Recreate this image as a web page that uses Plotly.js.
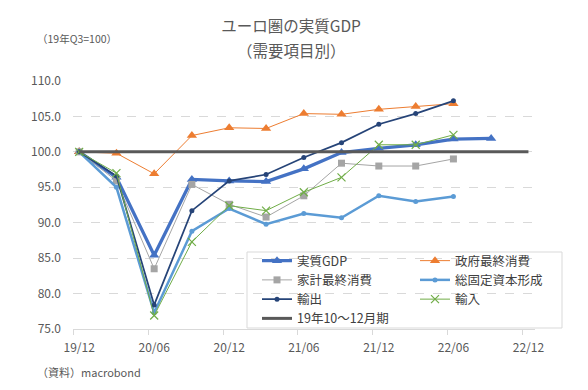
<!DOCTYPE html>
<html>
<head>
<meta charset="utf-8">
<script src="https://cdn.plot.ly/plotly-3.0.1.min.js"></script>
<style>html,body{margin:0;padding:0;background:#fff;}#chart{width:588px;height:390px;}</style>
</head>
<body>
<div id="chart"></div>
<script>
// Quarter-end months (plotted mid-month, like Excel date axis)
const dates = ["2019-12-16","2020-03-16","2020-06-16","2020-09-16","2020-12-16","2021-03-16","2021-06-16","2021-09-16","2021-12-16","2022-03-16","2022-06-16","2022-09-16"];
const refDates = ["2019-12-16","2022-12-16"];
const gdp        = [100.0, 96.4, 85.4, 96.1, 95.9, 95.8, 97.6, 99.9, 100.5, 101.0, 101.8, 101.9];
const government = [100.0, 99.8, 96.9, 102.3, 103.4, 103.3, 105.4, 105.3, 106.0, 106.4, 106.8];
const household  = [100.0, 95.9, 83.5, 95.4, 92.6, 90.8, 93.8, 98.4, 98.0, 98.0, 99.0];
const gfcf       = [100.0, 95.0, 77.3, 88.8, 92.0, 89.8, 91.3, 90.7, 93.8, 93.0, 93.7];
const exportsV   = [100.0, 96.6, 78.4, 91.7, 95.9, 96.8, 99.2, 101.3, 103.9, 105.4, 107.2];
const importsV   = [100.0, 97.0, 76.9, 87.3, 92.4, 91.7, 94.3, 96.4, 101.0, 101.0, 102.4];
const refLine    = [100, 100];
const names = ["実質GDP","政府最終消費","家計最終消費","総固定資本形成","輸出","輸入","19年10～12月期"];
const titleMain = "ユーロ圏の実質GDP";
const titleSub = "（需要項目別）";

const font = "Meiryo, 'Noto Sans CJK JP', 'Noto Sans', sans-serif";

const traces = [
  {x: dates.slice(0, gdp.length), y: gdp, name: names[0], mode: "lines+markers", legend: "legend",
   line: {color: "#4472C4", width: 3.25}, marker: {symbol: "triangle-up", size: 9, color: "#4472C4"}},
  {x: dates.slice(0, government.length), y: government, name: names[1], mode: "lines+markers", legend: "legend2",
   line: {color: "#ED7D31", width: 1}, marker: {symbol: "triangle-up", size: 9, color: "#ED7D31"}},
  {x: dates.slice(0, household.length), y: household, name: names[2], mode: "lines+markers", legend: "legend",
   line: {color: "#A5A5A5", width: 1}, marker: {symbol: "square", size: 7, color: "#A5A5A5"}},
  {x: dates.slice(0, gfcf.length), y: gfcf, name: names[3], mode: "lines+markers", legend: "legend2",
   line: {color: "#5B9BD5", width: 2.5}, marker: {symbol: "circle", size: 5, color: "#5B9BD5"}},
  {x: dates.slice(0, exportsV.length), y: exportsV, name: names[4], mode: "lines+markers", legend: "legend",
   line: {color: "#264478", width: 1.75}, marker: {symbol: "circle", size: 5, color: "#264478"}},
  {x: dates.slice(0, importsV.length), y: importsV, name: names[5], mode: "lines+markers", legend: "legend2",
   line: {color: "#70AD47", width: 1}, marker: {symbol: "x-thin", size: 8, color: "#70AD47", line: {color: "#70AD47", width: 1.2}}},
  {x: refDates, y: refLine, name: names[6], mode: "lines", legend: "legend",
   line: {color: "#595959", width: 3}}
];

const legendBase = {orientation: "v", xanchor: "left", yanchor: "top", y: (329 - 246) / 248,
  bgcolor: "rgba(0,0,0,0)", borderwidth: 0, tracegroupgap: 0, traceorder: "normal",
  font: {family: font, size: 12.5, color: "#404040"}};

const layout = {
  width: 588, height: 390,
  margin: {l: 73, r: 53, t: 81, b: 61},
  paper_bgcolor: "#fff", plot_bgcolor: "#fff",
  font: {family: font, color: "#595959", size: 12},
  title: {text: titleMain, x: 0.495, xanchor: "center", y: 1 - 27 / 390, yanchor: "middle",
          font: {family: font, size: 15.5, color: "#595959"}},
  showlegend: true,
  legend: Object.assign({}, legendBase, {x: (257 - 73) / 462}),
  legend2: Object.assign({}, legendBase, {x: (415 - 73) / 462}),
  shapes: [
    {type: "rect", xref: "paper", yref: "paper", layer: "below",
     x0: (247 - 73) / 462, x1: (562 - 73) / 462, y0: (329 - 328) / 248, y1: (329 - 252) / 248,
     line: {color: "#d9d9d9", width: 1}, fillcolor: "#fff"}
  ],
  xaxis: {type: "date", range: ["2019-12-01", "2023-01-01"],
          tick0: "2019-12-16", dtick: "M6", tickformat: "%y/%m", ticks: "",
          showgrid: false, showline: true, linecolor: "#d9d9d9", linewidth: 1,
          tickfont: {size: 12, color: "#595959"}, ticklabelstandoff: 8,
          minor: {tick0: "2019-12-01", dtick: "M6", ticks: "outside", ticklen: 5, tickcolor: "#d9d9d9", showgrid: false},
          fixedrange: true},
  yaxis: {range: [75, 110], dtick: 5, tick0: 75, tickformat: ".1f", ticks: "",
          showgrid: true, gridcolor: "#d9d9d9", griddash: "dash", gridwidth: 1,
          zeroline: false, showline: false, ticklabelstandoff: 11,
          tickfont: {size: 12, color: "#595959"}, fixedrange: true},
  annotations: [
    {text: titleSub, xref: "paper", yref: "paper", x: (291 - 73) / 462, y: (329 - 50) / 248, xanchor: "center", yanchor: "middle",
     showarrow: false, font: {family: font, size: 15.5, color: "#595959"}},
    {text: "（19年Q3=100）", xref: "paper", yref: "paper", x: (35 - 73) / 462, y: (329 - 38) / 248, xanchor: "left", yanchor: "middle",
     showarrow: false, font: {family: font, size: 10.5, color: "#595959"}},
    {text: "（資料）macrobond", xref: "paper", yref: "paper", x: (35 - 73) / 462, y: (329 - 372) / 248, xanchor: "left", yanchor: "middle",
     showarrow: false, font: {family: font, size: 11, color: "#595959"}}
  ]
};

Plotly.newPlot("chart", traces, layout, {displayModeBar: false, staticPlot: true});
</script>
</body>
</html>
